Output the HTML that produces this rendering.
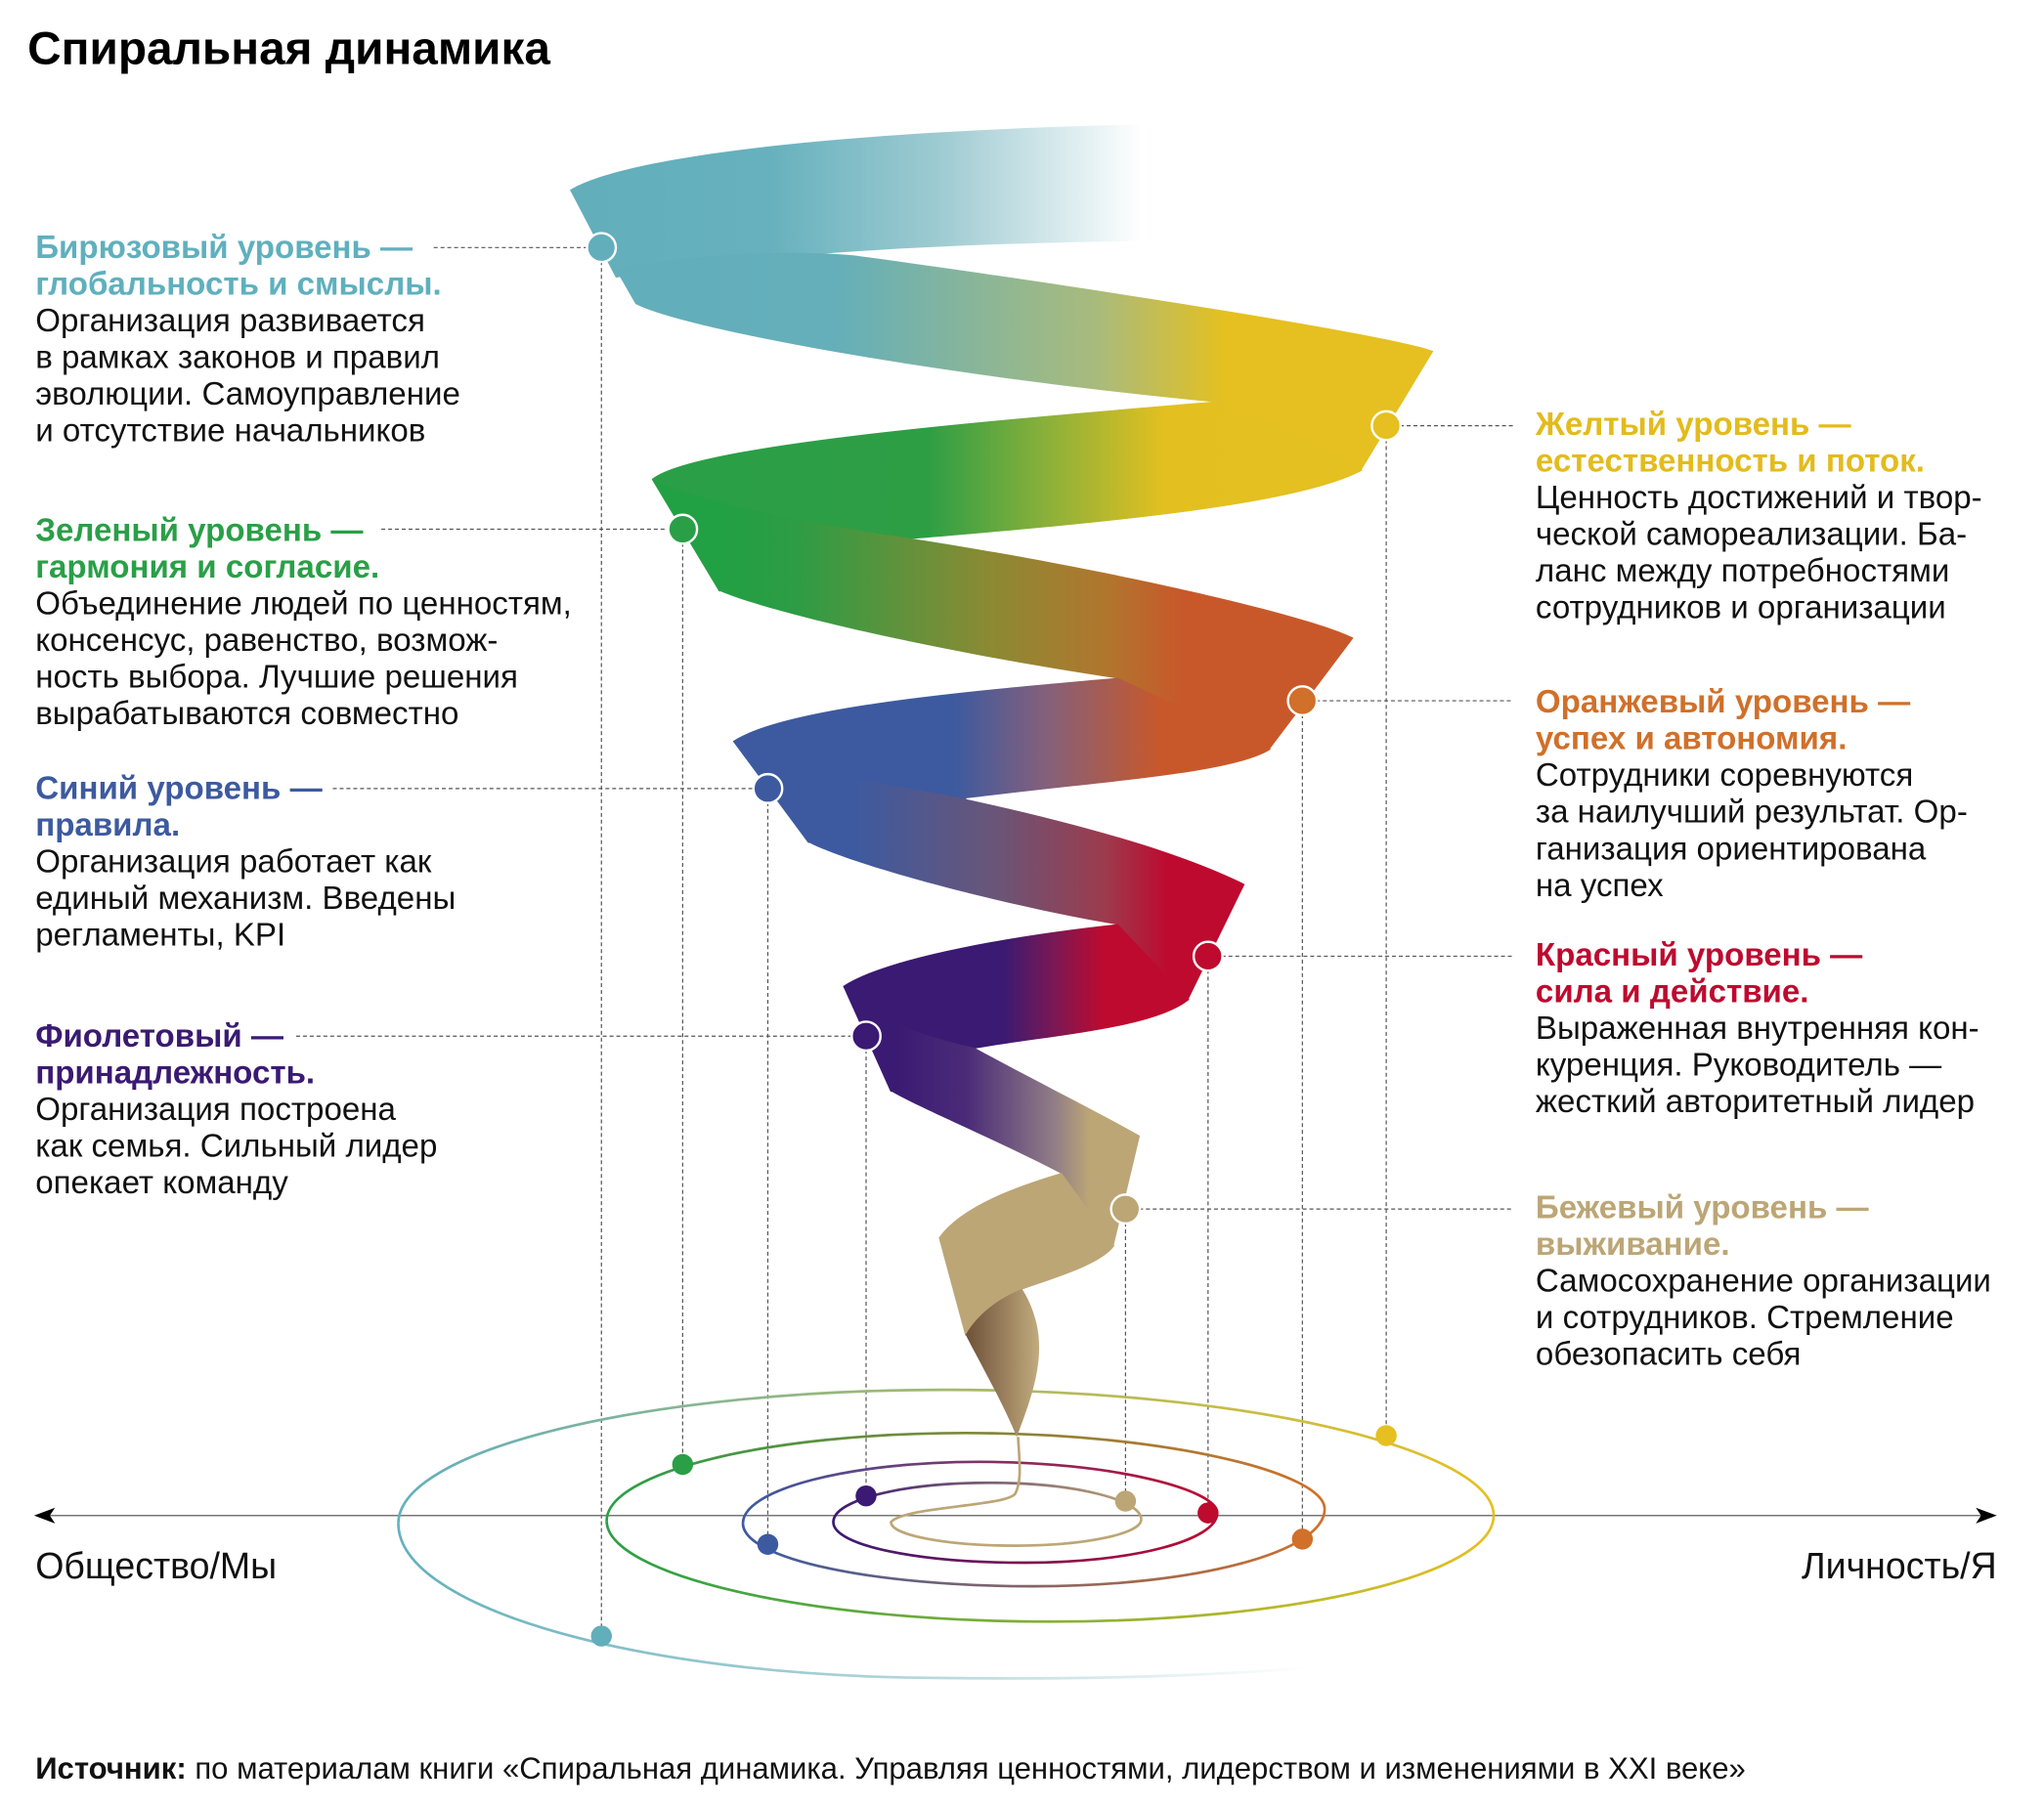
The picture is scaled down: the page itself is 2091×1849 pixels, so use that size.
<!DOCTYPE html>
<html><head><meta charset="utf-8">
<style>
html,body{margin:0;padding:0;background:#fff;}
svg{display:block;}
text{font-family:"Liberation Sans","Noto Sans CJK SC",sans-serif;}
.b{font-size:24.7px;fill:#111;}
.h{font-size:24.7px;font-weight:bold;}
</style></head>
<body>
<svg width="2091" height="1849" viewBox="0 0 1560 1379.5" xmlns="http://www.w3.org/2000/svg">
<defs>
<linearGradient id="gb1" gradientUnits="userSpaceOnUse" x1="435" y1="0" x2="872" y2="0">
<stop offset="0" stop-color="#62aebb"/><stop offset="0.35" stop-color="#66b1bd"/><stop offset="0.65" stop-color="#9fcbd2"/><stop offset="1" stop-color="#ffffff"/></linearGradient>
<linearGradient id="gf1" gradientUnits="userSpaceOnUse" x1="485" y1="0" x2="1094" y2="0">
<stop offset="0" stop-color="#62aebb"/><stop offset="0.25" stop-color="#64afba"/><stop offset="0.58" stop-color="#a9bb7c"/><stop offset="0.74" stop-color="#e5c020"/><stop offset="1" stop-color="#e5c020"/></linearGradient>
<linearGradient id="gb2" gradientUnits="userSpaceOnUse" x1="498" y1="0" x2="1100" y2="0">
<stop offset="0" stop-color="#2a9f47"/><stop offset="0.35" stop-color="#2e9e45"/><stop offset="0.5" stop-color="#8bb03a"/><stop offset="0.65" stop-color="#e3c020"/><stop offset="1" stop-color="#e5c020"/></linearGradient>
<linearGradient id="gf2" gradientUnits="userSpaceOnUse" x1="549" y1="0" x2="1040" y2="0">
<stop offset="0" stop-color="#22a044"/><stop offset="0.12" stop-color="#2d9c45"/><stop offset="0.42" stop-color="#8b8a33"/><stop offset="0.6" stop-color="#b0762e"/><stop offset="0.72" stop-color="#c8582a"/><stop offset="1" stop-color="#c8582a"/></linearGradient>
<linearGradient id="gb3" gradientUnits="userSpaceOnUse" x1="560" y1="0" x2="1040" y2="0">
<stop offset="0" stop-color="#3d5aa0"/><stop offset="0.35" stop-color="#3d5aa0"/><stop offset="0.5" stop-color="#86607a"/><stop offset="0.68" stop-color="#c8582a"/><stop offset="1" stop-color="#c8582a"/></linearGradient>
<linearGradient id="gf3" gradientUnits="userSpaceOnUse" x1="617" y1="0" x2="960" y2="0">
<stop offset="0" stop-color="#3d5aa0"/><stop offset="0.1" stop-color="#3d5aa0"/><stop offset="0.42" stop-color="#6a5577"/><stop offset="0.66" stop-color="#9c3b4d"/><stop offset="0.8" stop-color="#be0a2f"/><stop offset="1" stop-color="#be0a2f"/></linearGradient>
<linearGradient id="gb4" gradientUnits="userSpaceOnUse" x1="644" y1="0" x2="920" y2="0">
<stop offset="0" stop-color="#3a1a72"/><stop offset="0.44" stop-color="#3a1a72"/><stop offset="0.58" stop-color="#7a1855"/><stop offset="0.72" stop-color="#be0a2f"/><stop offset="1" stop-color="#be0a2f"/></linearGradient>
<linearGradient id="gf4" gradientUnits="userSpaceOnUse" x1="680" y1="0" x2="870" y2="0">
<stop offset="0" stop-color="#3a1a72"/><stop offset="0.3" stop-color="#4a2a78"/><stop offset="0.65" stop-color="#8f7c86"/><stop offset="0.8" stop-color="#bca676"/><stop offset="1" stop-color="#bca676"/></linearGradient>
<linearGradient id="gtail" gradientUnits="userSpaceOnUse" x1="737" y1="0" x2="795" y2="0">
<stop offset="0" stop-color="#6e5038"/><stop offset="1" stop-color="#c4ae80"/></linearGradient>
<linearGradient id="e0" gradientUnits="userSpaceOnUse" x1="1000" y1="0" x2="304" y2="0"><stop offset="0" stop-color="#ffffff"/><stop offset="0.5" stop-color="#a8d0d6"/><stop offset="1" stop-color="#64b0bc"/></linearGradient>
<linearGradient id="e1" gradientUnits="userSpaceOnUse" x1="304" y1="0" x2="1140" y2="0"><stop offset="0" stop-color="#64b0bc"/><stop offset="1" stop-color="#e5c020"/></linearGradient>
<linearGradient id="e2" gradientUnits="userSpaceOnUse" x1="1140" y1="0" x2="463" y2="0"><stop offset="0" stop-color="#e5c020"/><stop offset="1" stop-color="#2a9f47"/></linearGradient>
<linearGradient id="e3" gradientUnits="userSpaceOnUse" x1="463" y1="0" x2="1011" y2="0"><stop offset="0" stop-color="#2a9f47"/><stop offset="1" stop-color="#d0702a"/></linearGradient>
<linearGradient id="e4" gradientUnits="userSpaceOnUse" x1="1011" y1="0" x2="567" y2="0"><stop offset="0" stop-color="#d0702a"/><stop offset="1" stop-color="#3d5aa0"/></linearGradient>
<linearGradient id="e5" gradientUnits="userSpaceOnUse" x1="567" y1="0" x2="929" y2="0"><stop offset="0" stop-color="#3d5aa0"/><stop offset="1" stop-color="#be0a2f"/></linearGradient>
<linearGradient id="e6" gradientUnits="userSpaceOnUse" x1="929" y1="0" x2="636" y2="0"><stop offset="0" stop-color="#be0a2f"/><stop offset="1" stop-color="#3a1a72"/></linearGradient>
<linearGradient id="e7" gradientUnits="userSpaceOnUse" x1="636" y1="0" x2="871" y2="0"><stop offset="0" stop-color="#3a1a72"/><stop offset="1" stop-color="#bca676"/></linearGradient>
</defs>

<text x="21" y="49" font-size="35" font-weight="bold" fill="#000" textLength="399" lengthAdjust="spacingAndGlyphs">Спиральная динамика</text>

<g stroke="#555" stroke-width="0.9" stroke-dasharray="3 2.2" fill="none">
<line x1="331" y1="189" x2="459" y2="189"/>
<line x1="291" y1="404" x2="521" y2="404"/>
<line x1="254" y1="602" x2="586" y2="602"/>
<line x1="226" y1="791" x2="661" y2="791"/>
<line x1="1058" y1="325" x2="1155" y2="325"/>
<line x1="994" y1="535" x2="1155" y2="535"/>
<line x1="922" y1="730" x2="1155" y2="730"/>
<line x1="859" y1="923" x2="1155" y2="923"/>
<line x1="459" y1="189" x2="459" y2="1249"/>
<line x1="521" y1="404" x2="521" y2="1118"/>
<line x1="586" y1="602" x2="586" y2="1179"/>
<line x1="661" y1="791" x2="661" y2="1142"/>
<line x1="859" y1="923" x2="859" y2="1146"/>
<line x1="922" y1="730" x2="922" y2="1155"/>
<line x1="994" y1="535" x2="994" y2="1175"/>
<line x1="1058" y1="325" x2="1058" y2="1096"/>
</g>

<line x1="34" y1="1157" x2="1516" y2="1157" stroke="#777" stroke-width="1.1"/>
<polygon points="26,1157 42,1151 38,1157 42,1163" fill="#000"/>
<polygon points="1524,1157 1508,1151 1512,1157 1508,1163" fill="#000"/>

<g fill="none" stroke-width="2">
<path d="M1000,1273 Q880,1283 722,1281 C491,1281 304,1228 304,1163" stroke="url(#e0)"/>
<path d="M304,1163 C304,1107 491,1061 722,1061 C953,1061 1140,1107 1140,1157" stroke="url(#e1)"/>
<path d="M1140,1157 C1140,1202 989,1238 801,1238 C614,1238 463,1202 463,1161" stroke="url(#e2)"/>
<path d="M463,1161 C463,1124 586,1094 737,1094 C888,1094 1011,1124 1011,1152" stroke="url(#e3)"/>
<path d="M1011,1152 C1011,1185 912,1211 789,1211 C666,1211 567,1190 567,1163" stroke="url(#e4)"/>
<path d="M567,1163 C567,1137 648,1116 748,1116 C848,1116 929,1137 929,1155" stroke="url(#e5)"/>
<path d="M929,1155 C929,1176 864,1193 782,1193 C701,1193 636,1180 636,1162" stroke="url(#e6)"/>
<path d="M636,1162 C636,1145 689,1132 755,1132 C821,1132 871,1145 871,1160" stroke="url(#e7)"/>
<path d="M871,1160 C871,1171 828,1180 775,1180 C722,1180 680,1172 680,1162 C690,1150 770,1150 775,1140 C780,1130 778,1115 777,1097" stroke="#bca676"/>
</g>

<path d="M435,145 C480,118 650,100 872,95 L872,184 C700,186 560,196 470,212 Z" fill="url(#gb1)"/>
<path d="M435,145 L485,232 C520,250 700,285 927,307 L1039,359 L1094,268 C1060,255 800,215 652,195 C600,190 520,195 470,205 Z" fill="url(#gf1)"/>
<path d="M927,307 C750,322 530,340 498,366 L549,451 L695,440 L695,411 C850,398 990,385 1039,359 Z" fill="url(#gb2)" stroke="url(#gb2)" stroke-width="1"/>
<path d="M498,366 L549,451 C580,465 700,495 853,518 L969,572 L1033,487 C1000,470 850,435 695,411 C620,400 540,385 498,366 Z" fill="url(#gf2)"/>
<path d="M853,518 C740,528 600,540 560,566 L617,643 L737,640 L737,609 C850,595 940,590 969,572 Z" fill="url(#gb3)" stroke="url(#gb3)" stroke-width="1"/>
<path d="M560,566 L617,643 C650,660 760,690 853,706 L907,763 L950,675 C900,650 820,628 737,610 C680,598 600,590 560,566 Z" fill="url(#gf3)"/>
<path d="M853,706 C780,714 680,730 644,753 L680,833 L744,830 L744,800 C800,790 880,785 907,763 Z" fill="url(#gb4)" stroke="url(#gb4)" stroke-width="1"/>
<path d="M644,753 L680,833 C700,845 760,870 810,896 L850,951 L870,867 C840,850 790,825 744,800 C700,790 660,775 644,753 Z" fill="url(#gf4)"/>
<path d="M810,896 C780,905 735,920 717,945 L737,1019 L780,984 C805,975 840,965 850,951 Z" fill="#bca676" stroke="#bca676" stroke-width="1"/>
<path d="M737,1019 C745,1035 765,1070 776,1097 C786,1070 798,1040 791,1010 C788,998 784,990 780,984 C760,992 745,1005 737,1019 Z" fill="url(#gtail)"/>

<g stroke="#fff" stroke-width="1.8">
<circle cx="459" cy="189" r="11" fill="#62aebb"/>
<circle cx="1058" cy="325" r="11" fill="#e5c020"/>
<circle cx="521" cy="404" r="11" fill="#2a9f47"/>
<circle cx="994" cy="535" r="11" fill="#d0702a"/>
<circle cx="586" cy="602" r="11" fill="#3d5aa0"/>
<circle cx="922" cy="730" r="11" fill="#be0a2f"/>
<circle cx="661" cy="791" r="11" fill="#3a1a72"/>
<circle cx="859" cy="923" r="11" fill="#bca676"/>
</g>
<circle cx="459" cy="1249" r="8" fill="#62aebb"/>
<circle cx="521" cy="1118" r="8" fill="#2a9f47"/>
<circle cx="586" cy="1179" r="8" fill="#3d5aa0"/>
<circle cx="661" cy="1142" r="8" fill="#3a1a72"/>
<circle cx="859" cy="1146" r="8" fill="#bca676"/>
<circle cx="922" cy="1155" r="8" fill="#be0a2f"/>
<circle cx="994" cy="1175" r="8" fill="#d0702a"/>
<circle cx="1058" cy="1096" r="8" fill="#e5c020"/>

<text class="h" x="27" y="197" fill="#5fb0be">Бирюзовый уровень —</text>
<text class="h" x="27" y="225" fill="#5fb0be">глобальность и смыслы.</text>
<text class="b" x="27" y="253">Организация развивается</text>
<text class="b" x="27" y="281">в рамках законов и правил</text>
<text class="b" x="27" y="309">эволюции. Самоуправление</text>
<text class="b" x="27" y="337">и отсутствие начальников</text>

<text class="h" x="27" y="413" fill="#2a9f47">Зеленый уровень —</text>
<text class="h" x="27" y="441" fill="#2a9f47">гармония и согласие.</text>
<text class="b" x="27" y="469">Объединение людей по ценностям,</text>
<text class="b" x="27" y="497">консенсус, равенство, возмож-</text>
<text class="b" x="27" y="525">ность выбора. Лучшие решения</text>
<text class="b" x="27" y="553">вырабатываются совместно</text>

<text class="h" x="27" y="610" fill="#3d5aa0">Синий уровень —</text>
<text class="h" x="27" y="638" fill="#3d5aa0">правила.</text>
<text class="b" x="27" y="666">Организация работает как</text>
<text class="b" x="27" y="694">единый механизм. Введены</text>
<text class="b" x="27" y="722">регламенты, KPI</text>

<text class="h" x="27" y="799" fill="#3a1a72">Фиолетовый —</text>
<text class="h" x="27" y="827" fill="#3a1a72">принадлежность.</text>
<text class="b" x="27" y="855">Организация построена</text>
<text class="b" x="27" y="883">как семья. Сильный лидер</text>
<text class="b" x="27" y="911">опекает команду</text>

<text class="h" x="1172" y="332" fill="#e3bb1c">Желтый уровень —</text>
<text class="h" x="1172" y="360" fill="#e3bb1c">естественность и поток.</text>
<text class="b" x="1172" y="388">Ценность достижений и твор-</text>
<text class="b" x="1172" y="416">ческой самореализации. Ба-</text>
<text class="b" x="1172" y="444">ланс между потребностями</text>
<text class="b" x="1172" y="472">сотрудников и организации</text>

<text class="h" x="1172" y="544" fill="#d0702a">Оранжевый уровень —</text>
<text class="h" x="1172" y="572" fill="#d0702a">успех и автономия.</text>
<text class="b" x="1172" y="600">Сотрудники соревнуются</text>
<text class="b" x="1172" y="628">за наилучший результат. Ор-</text>
<text class="b" x="1172" y="656">ганизация ориентирована</text>
<text class="b" x="1172" y="684">на успех</text>

<text class="h" x="1172" y="737" fill="#be0a2f">Красный уровень —</text>
<text class="h" x="1172" y="765" fill="#be0a2f">сила и действие.</text>
<text class="b" x="1172" y="793">Выраженная внутренняя кон-</text>
<text class="b" x="1172" y="821">куренция. Руководитель —</text>
<text class="b" x="1172" y="849">жесткий авторитетный лидер</text>

<text class="h" x="1172" y="930" fill="#bca676">Бежевый уровень —</text>
<text class="h" x="1172" y="958" fill="#bca676">выживание.</text>
<text class="b" x="1172" y="986">Самосохранение организации</text>
<text class="b" x="1172" y="1014">и сотрудников. Стремление</text>
<text class="b" x="1172" y="1042">обезопасить себя</text>

<text x="27" y="1205" font-size="28" fill="#111">Общество/Мы</text>
<text x="1524" y="1205" font-size="28" fill="#111" text-anchor="end">Личность/Я</text>

<text x="27" y="1358" font-size="23.2" fill="#111"><tspan font-weight="bold">Источник:</tspan> по материалам книги «Спиральная динамика. Управляя ценностями, лидерством и изменениями в XXI веке»</text>
</svg>
</body></html>
